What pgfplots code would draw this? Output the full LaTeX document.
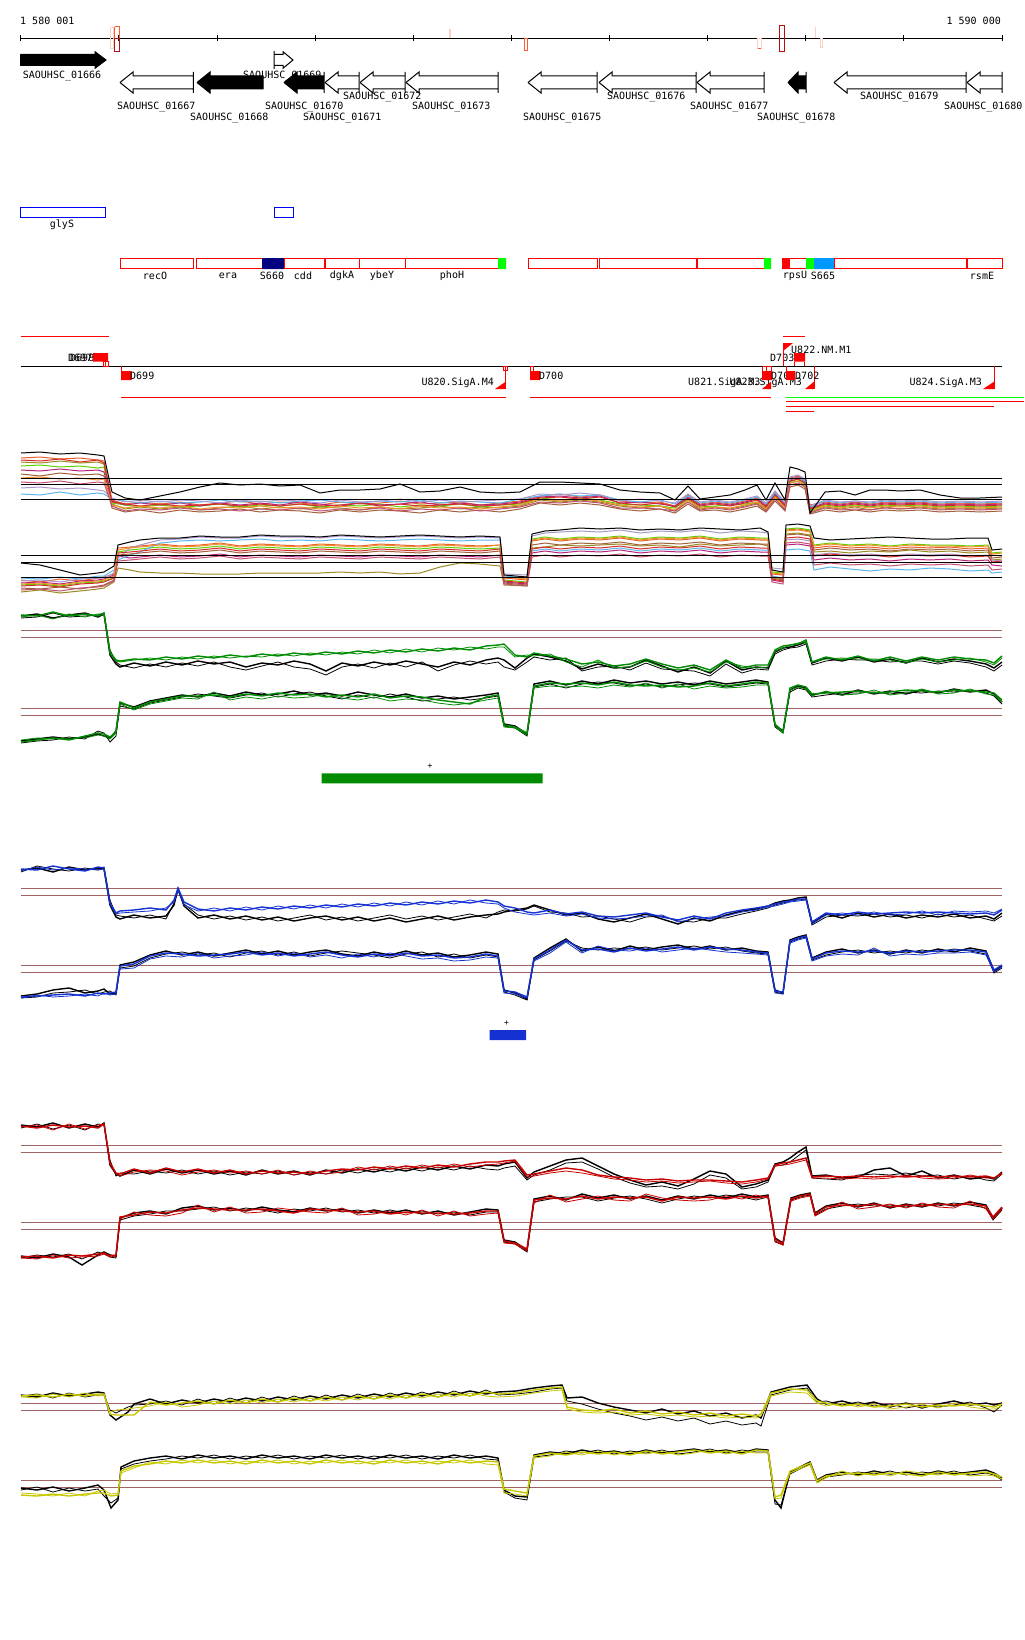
\documentclass[border=0pt]{standalone}
\usepackage{fontspec}
\setmainfont{DejaVu Sans Mono}
\usepackage{pgfplots}
\usepackage{pgfplotstable}
\pgfplotsset{compat=1.18}
\definecolor{rb}{RGB}{160,100,100}
\definecolor{m1}{RGB}{232,96,44}
\definecolor{m2}{RGB}{154,138,34}
\definecolor{m3}{RGB}{95,208,0}
\definecolor{m4}{RGB}{184,35,122}
\definecolor{m5}{RGB}{90,180,238}
\definecolor{m6}{RGB}{168,152,204}
\definecolor{m7}{RGB}{160,96,58}
\definecolor{m8}{RGB}{212,42,42}
\definecolor{m9}{RGB}{240,144,42}
\definecolor{m10}{RGB}{192,80,112}
\definecolor{tg}{RGB}{0,140,0}
\definecolor{tb}{RGB}{20,50,210}
\definecolor{tr}{RGB}{200,0,0}
\definecolor{ty}{RGB}{200,200,0}
\definecolor{navyb}{RGB}{0,0,128}
\definecolor{skyb}{RGB}{0,153,255}
\definecolor{lime}{RGB}{0,255,0}
\definecolor{pinkl}{RGB}{248,210,195}
\definecolor{oran}{RGB}{255,90,50}
\definecolor{dred}{RGB}{180,16,16}

\newcommand{\bx}[5]{\addplot[#1] coordinates {(#2,#3) (#4,#3) (#4,#5) (#2,#5) (#2,#3)};}
\newcommand{\sg}[5]{\addplot[#1] coordinates {(#2,#3) (#4,#5)};}
\newcommand{\lab}[4]{\node[font=\fontsize{10}{12}\selectfont, inner sep=0pt, anchor=#1] at (axis cs:#2,#3) {#4};}

% ---------- multi-colour track ----------
\pgfplotstableread{
x k c1 c2 c3 c4 c5 c6 c7 c8 c9 c10
21 453 458 462 466 470 494 488 474 460 478 482
40 452 457 463 465 471 495 487 476 461 477 483
60 454 459 461 467 469 492 489 473 459 479 481
80 453 458 463 466 471 495 488 475 462 478 484
98 455 460 462 468 470 493 490 474 460 480 482
104 456 461 464 467 472 494 491 476 463 479 483
112 492 500 504 503 501 499 498 508 502 505 506
125 498 504 509 505 505 501 502 512 504 508 511
140 500 502 507 507 503 503 500 510 506 506 509
160 496 504 509 505 505 501 502 513 504 508 510
180 492 502 507 507 503 503 500 510 506 506 508
200 487 505 510 506 506 502 501 512 505 509 510
220 483 503 508 504 503 500 503 511 504 507 509
240 485 501 506 507 505 502 500 509 506 508 511
260 484 504 509 505 503 501 502 512 504 506 509
280 486 502 507 506 505 503 500 510 506 508 510
300 485 503 509 504 502 501 501 511 504 507 508
320 493 505 507 507 504 500 503 513 506 509 511
340 490 502 508 505 506 502 500 510 505 506 509
360 490 504 510 506 503 503 502 512 503 508 510
380 489 503 507 504 505 501 501 510 506 507 508
400 484 501 509 507 504 502 499 511 504 509 511
420 492 504 508 505 502 500 502 513 506 506 509
440 491 503 506 506 505 503 500 510 505 508 510
460 487 502 509 504 503 501 502 512 504 507 508
480 492 505 507 507 505 502 501 510 506 509 511
500 493 503 508 505 504 503 500 512 505 507 509
520 492 501 506 504 502 499 499 509 503 505 507
540 482 496 500 498 497 496 494 503 498 499 502
560 482 494 502 500 496 494 495 505 497 501 503
580 483 497 500 498 498 496 493 503 499 499 501
600 484 495 502 500 496 495 495 505 497 501 503
620 490 501 506 504 503 500 501 509 503 505 508
640 492 503 508 505 502 502 499 511 505 507 508
660 493 502 506 506 504 500 501 509 503 506 509
675 500 506 511 508 506 504 503 513 507 510 511
688 486 495 500 499 497 496 494 504 498 500 502
700 499 504 509 507 505 503 502 511 506 508 510
715 497 502 507 506 503 501 500 510 504 507 508
730 495 504 509 505 505 503 502 512 506 508 510
745 490 501 506 504 502 500 499 509 503 505 507
757 485 498 503 502 499 497 496 506 500 502 504
766 500 505 510 508 506 504 503 512 507 509 511
775 483 492 497 496 494 493 491 501 495 497 499
785 500 504 509 507 505 503 502 511 506 508 510
790 467 478 483 482 480 479 477 487 481 483 485
798 469 476 481 479 477 478 475 485 479 481 483
805 472 480 486 484 482 481 479 489 483 485 487
810 513 505 512 510 508 507 506 514 509 511 513
825 492 502 507 505 503 501 500 510 504 506 508
840 491 504 509 507 505 503 502 512 506 508 510
855 495 502 507 505 503 501 501 510 504 506 509
870 490 504 510 507 505 503 502 512 506 508 510
885 490 502 507 505 503 501 500 510 504 506 508
900 491 503 509 506 504 502 501 511 505 507 509
920 490 502 507 505 503 501 500 510 504 506 508
940 495 504 509 507 505 503 502 512 506 508 510
960 498 503 508 506 504 502 501 511 505 507 509
980 498 504 509 507 505 503 502 512 506 508 510
1002 497 503 508 506 504 502 501 511 505 507 509
}\multiup
\pgfplotstableread{
x k c1 c2 c3 c4 c5 c6 c7 c8 c9 c10
21 563 580 592 585 583 578 581 588 586 584 590
40 565 582 590 584 582 579 580 589 585 583 589
60 570 579 593 586 584 577 582 587 587 585 591
80 575 581 591 583 581 579 579 589 584 582 588
98 573 578 589 582 580 576 578 586 583 581 587
104 572 577 588 581 579 576 578 585 582 580 586
114 566 574 582 578 575 570 573 580 578 576 581
118 545 548 568 552 556 560 558 555 553 550 561
130 542 547 570 550 558 555 548 554 552 548 560
140 540 546 572 549 557 552 545 553 551 547 559
160 538 544 573 547 555 543 540 551 549 545 557
180 538 546 573 549 557 541 539 553 551 547 559
200 536 545 574 548 556 540 537 552 550 546 558
220 537 543 574 546 554 541 538 550 548 544 556
240 537 546 574 549 557 540 538 553 551 547 559
260 535 544 573 547 555 539 536 551 549 545 557
280 536 545 573 548 556 541 537 552 550 546 558
300 536 546 573 549 557 540 537 553 551 547 559
320 537 544 573 547 555 541 538 551 549 545 557
340 535 545 572 548 556 539 536 552 550 546 558
360 536 546 573 549 557 540 537 553 551 547 559
380 537 544 572 547 555 541 538 551 549 545 557
400 536 545 574 548 556 540 537 552 550 546 558
420 535 546 573 549 557 539 536 553 551 547 559
440 536 544 567 547 555 540 537 551 549 545 557
460 537 545 563 548 556 541 538 552 550 546 558
480 536 546 564 549 557 540 537 553 551 547 559
500 537 545 566 548 555 540 538 551 549 545 557
504 575 578 585 580 582 576 574 583 581 577 584
527 577 580 586 582 584 578 575 585 583 579 586
532 534 541 548 539 553 551 536 545 549 540 557
545 531 539 547 537 551 549 533 543 547 538 555
560 530 541 545 539 553 551 532 545 549 540 557
580 528 539 546 537 551 549 531 543 547 538 555
600 529 540 545 538 552 550 532 544 548 539 556
620 528 538 544 536 550 548 530 542 546 537 554
640 530 541 546 539 553 551 533 545 549 540 557
660 529 539 545 537 551 549 531 543 547 538 555
680 530 540 547 538 552 550 532 544 548 539 556
700 528 538 544 536 550 548 530 542 546 537 554
720 529 541 546 539 553 551 533 545 549 540 557
740 530 539 545 537 551 549 531 543 547 538 555
760 528 540 544 538 552 550 532 544 548 539 556
768 532 540 546 538 552 550 533 544 548 539 556
772 570 574 578 572 580 576 568 577 579 573 582
783 572 575 580 573 582 578 569 579 581 574 584
786 525 530 534 529 545 550 540 535 538 531 543
798 524 529 533 528 544 549 539 534 537 530 542
810 526 531 535 530 546 551 541 536 539 532 544
814 538 548 552 545 560 570 555 550 556 546 565
830 540 546 551 543 558 567 553 548 554 544 563
850 539 548 553 545 560 569 555 550 556 546 565
870 538 547 551 544 559 571 554 549 555 545 564
890 537 549 552 546 561 569 556 551 557 547 566
910 538 547 550 544 559 570 554 549 555 545 564
930 539 548 552 545 560 568 555 550 556 546 565
950 539 547 551 545 559 569 554 549 555 546 564
970 538 549 553 546 561 571 556 551 557 547 566
988 538 548 552 545 560 570 555 550 556 546 565
992 550 555 560 553 565 573 560 558 562 554 570
1002 549 556 559 552 566 572 561 557 561 553 569
}\multilo

% ---------- green track ----------
\pgfplotstableread{
x k1 k2 c1 c2
21 616 618 615 617
37 614 617 616 615
53 618 613 612 619
69 615 617 616 614
85 613 616 614 617
98 617 615 616 614
104 614 613 613 614
110 655 650 652 654
116 664 662 660 661
120 667 665 661 662
134 663 668 659 660
150 666 664 660 658
166 662 667 657 660
182 665 663 659 657
198 661 666 656 659
214 664 662 658 656
230 662 667 655 658
246 667 670 657 656
262 663 666 654 657
278 665 662 656 654
294 661 667 653 656
310 664 669 655 653
326 671 675 652 655
342 663 667 654 652
358 666 664 651 654
374 662 668 653 650
390 665 663 650 653
406 661 667 652 649
422 664 662 649 652
438 667 671 651 648
454 662 665 648 650
470 665 661 650 647
486 660 664 646 649
498 658 662 645 647
504 660 667 644 647
515 668 670 655 657
527 658 662 657 655
534 654 657 653 656
550 657 660 656 654
566 661 658 659 662
582 669 671 664 667
598 664 667 662 660
614 668 666 666 668
630 667 670 664 667
646 660 663 659 661
662 666 669 664 667
678 672 670 668 670
694 667 671 665 668
710 673 676 670 672
726 661 664 660 662
742 670 673 668 666
756 667 669 665 668
768 668 670 665 667
775 652 654 650 651
783 648 650 646 648
790 647 648 645 645
798 645 647 644 643
806 642 644 640 642
812 663 665 662 662
826 658 661 657 659
842 661 659 660 658
858 657 660 656 659
874 662 660 661 659
890 659 662 657 660
906 663 661 661 663
922 658 661 657 659
938 662 664 660 662
954 659 661 657 660
970 661 663 659 658
986 664 667 660 662
994 668 671 663 665
1002 662 665 656 658
}\gup
\pgfplotstableread{
x k1 k2 c1 c2
21 741 743 742 740
37 739 741 740 738
53 737 740 738 739
69 739 737 740 738
85 737 739 736 738
98 734 731 733 735
104 736 733 734 736
110 738 742 737 739
116 731 736 732 733
120 703 706 702 704
134 707 709 708 710
150 701 703 702 704
166 698 700 699 701
182 695 697 696 698
198 697 694 696 699
214 693 696 695 692
230 696 698 697 700
246 692 695 694 697
262 695 693 696 699
278 694 697 693 696
294 691 694 695 698
310 695 692 694 697
326 693 696 697 694
342 696 699 695 698
358 692 695 697 700
374 695 698 694 697
390 697 694 698 701
406 694 697 696 699
422 698 701 697 700
438 696 699 700 703
454 699 697 702 705
470 697 700 704 703
486 695 698 697 700
498 693 696 695 698
504 724 726 725 727
515 726 728 727 728
527 734 736 733 735
534 684 687 686 688
550 681 684 683 686
566 685 688 684 687
582 681 684 683 686
598 684 682 685 688
614 680 683 682 685
630 683 686 685 687
646 681 684 686 683
662 684 687 685 688
678 682 685 687 684
694 685 683 686 689
710 681 684 683 686
726 684 687 686 688
742 682 685 684 687
756 680 683 682 685
768 682 684 683 685
775 725 727 724 726
783 731 733 732 733
790 690 692 688 690
798 686 688 685 687
806 688 690 687 689
812 695 697 694 696
826 692 695 693 691
842 695 693 692 695
858 690 693 691 694
874 694 692 693 690
890 691 694 692 695
906 694 692 690 693
922 690 693 691 689
938 693 691 692 694
954 689 692 690 693
970 692 690 691 689
986 690 693 692 694
994 694 696 693 695
1002 702 704 700 702
}\glo

% ---------- blue track ----------
\pgfplotstableread{
x k1 k2 c1 c2
21 870 872 869 871
37 868 866 870 867
53 872 869 866 870
69 867 871 869 868
85 870 868 871 869
98 868 870 867 870
104 869 867 868 869
110 905 900 903 904
116 917 915 913 914
120 919 916 911 913
134 915 918 910 912
150 918 915 908 911
166 916 919 910 908
174 905 903 900 902
178 889 890 888 890
184 906 904 902 905
198 918 915 909 911
214 915 919 911 908
230 919 916 908 911
246 916 920 910 907
262 920 917 907 910
278 917 921 909 906
294 921 918 906 909
310 918 915 908 905
326 916 920 905 908
342 920 917 907 904
358 917 921 904 907
374 921 918 906 903
390 918 915 903 906
406 922 919 905 902
422 919 916 902 905
438 916 920 904 901
454 920 917 901 904
470 917 914 903 900
486 915 918 900 903
498 914 912 902 904
504 912 910 906 908
515 910 911 908 912
527 908 909 912 914
534 905 906 913 915
550 910 912 910 913
566 915 913 914 916
582 913 917 912 914
598 919 916 916 918
614 922 919 917 919
630 918 922 915 918
646 914 917 913 916
662 919 916 917 915
678 924 921 920 922
694 918 922 916 919
710 921 918 919 917
726 915 918 913 916
742 911 914 910 912
756 909 911 908 910
768 906 908 906 907
775 903 905 904 906
783 901 903 902 904
790 900 901 901 902
798 898 900 899 901
806 897 899 899 900
812 923 925 922 924
826 914 917 913 915
842 918 915 915 913
858 913 916 912 915
874 917 914 914 912
890 914 917 913 915
906 918 915 912 914
922 915 918 913 911
938 917 914 912 915
954 914 917 913 911
970 918 915 914 912
986 916 919 913 911
994 919 921 915 913
1002 913 916 910 909
}\bup
\pgfplotstableread{
x k1 k2 c1 c2
21 996 998 997 998
37 994 997 996 995
53 990 993 995 997
69 988 992 994 996
85 993 990 996 994
98 991 994 993 996
104 989 992 994 993
110 994 991 993 995
116 993 995 992 994
120 965 968 966 969
134 962 966 964 968
150 955 958 956 959
166 951 954 953 956
182 955 952 954 957
198 952 955 956 953
214 956 953 955 958
230 953 957 954 956
246 950 953 952 955
262 954 951 955 952
278 951 955 953 956
294 955 952 956 953
310 952 956 954 957
326 950 953 952 955
342 954 951 955 958
358 956 953 957 954
374 952 955 954 957
390 955 958 956 953
406 951 954 953 956
422 955 952 956 959
438 953 957 955 958
454 957 954 958 961
470 955 958 957 960
486 952 955 954 957
498 954 957 956 958
504 990 992 991 993
515 993 995 992 994
527 999 1000 997 998
534 958 960 959 961
550 948 951 950 953
566 939 941 940 942
582 951 948 950 953
598 947 950 949 946
614 951 948 952 950
630 946 949 948 951
646 950 947 951 948
662 947 950 949 952
678 945 948 947 950
694 949 946 950 948
710 946 949 947 950
726 950 947 949 952
742 948 951 950 953
756 951 953 952 954
768 952 954 953 955
775 990 992 991 993
783 993 994 992 994
790 940 942 941 943
798 937 939 938 940
806 935 937 936 938
812 958 960 959 961
826 952 955 953 956
842 949 952 951 954
858 953 950 952 955
874 950 953 951 948
890 954 951 953 956
906 950 953 951 954
922 953 950 952 955
938 949 952 951 953
954 952 949 950 953
970 948 951 950 952
986 951 954 952 955
994 971 973 970 972
1002 966 968 965 967
}\blo

% ---------- red track ----------
\pgfplotstableread{
x k1 k2 c1 c2
21 1125 1128 1126 1127
37 1127 1124 1128 1125
53 1123 1129 1125 1130
69 1128 1125 1127 1124
85 1124 1130 1126 1129
98 1127 1124 1128 1125
104 1123 1125 1124 1124
110 1165 1160 1163 1164
116 1174 1176 1173 1174
120 1176 1173 1174 1176
134 1170 1174 1169 1172
150 1174 1171 1173 1170
166 1169 1173 1168 1171
182 1173 1170 1172 1175
198 1170 1174 1169 1172
214 1174 1171 1173 1170
230 1171 1175 1170 1173
246 1175 1172 1174 1171
262 1170 1174 1171 1174
278 1174 1171 1173 1170
294 1171 1175 1172 1175
310 1175 1172 1174 1171
326 1170 1174 1171 1174
342 1173 1170 1169 1172
358 1169 1173 1170 1167
374 1172 1169 1167 1170
390 1168 1172 1169 1166
406 1171 1168 1166 1169
422 1167 1171 1168 1165
438 1170 1167 1165 1168
454 1166 1170 1167 1164
470 1169 1166 1164 1167
486 1165 1169 1162 1165
498 1166 1170 1162 1164
504 1164 1168 1161 1163
515 1162 1166 1160 1161
527 1178 1180 1175 1177
534 1172 1175 1174 1176
550 1166 1170 1171 1173
566 1160 1163 1168 1171
582 1158 1162 1170 1173
598 1166 1169 1175 1176
614 1174 1177 1177 1179
630 1180 1183 1178 1180
646 1185 1187 1180 1182
662 1182 1186 1179 1181
678 1186 1189 1181 1183
694 1179 1184 1180 1182
710 1171 1175 1180 1181
726 1174 1178 1181 1183
742 1187 1189 1182 1184
756 1184 1187 1180 1182
768 1180 1182 1178 1179
775 1164 1166 1165 1166
783 1162 1165 1163 1165
790 1158 1162 1162 1164
798 1152 1156 1160 1162
806 1147 1150 1158 1160
812 1176 1178 1177 1178
826 1175 1179 1176 1178
842 1178 1180 1177 1179
858 1177 1175 1176 1178
874 1170 1174 1177 1179
890 1168 1175 1176 1178
906 1176 1173 1177 1175
922 1171 1176 1176 1178
938 1178 1175 1177 1179
954 1175 1179 1176 1178
970 1179 1176 1177 1175
986 1177 1180 1176 1178
994 1179 1181 1178 1178
1002 1172 1174 1173 1174
}\rup
\pgfplotstableread{
x k1 k2 c1 c2
21 1256 1258 1257 1258
37 1258 1255 1256 1259
53 1254 1257 1258 1255
69 1257 1254 1255 1258
82 1265 1259 1256 1257
98 1255 1252 1254 1256
104 1252 1254 1253 1254
110 1255 1257 1256 1257
116 1256 1258 1255 1256
120 1218 1220 1217 1219
134 1213 1216 1215 1212
150 1211 1214 1212 1215
166 1214 1211 1213 1216
182 1208 1211 1210 1213
198 1206 1209 1208 1205
214 1210 1207 1209 1212
230 1208 1211 1210 1207
246 1211 1208 1210 1213
262 1207 1210 1209 1212
278 1210 1213 1211 1208
294 1212 1209 1213 1210
310 1208 1211 1209 1212
326 1211 1208 1210 1213
342 1209 1212 1211 1208
358 1213 1210 1212 1215
374 1210 1213 1211 1214
390 1213 1210 1214 1211
406 1210 1213 1212 1215
422 1214 1211 1213 1210
438 1211 1214 1213 1216
454 1215 1212 1214 1211
470 1212 1215 1213 1216
486 1209 1212 1211 1214
498 1210 1212 1211 1213
504 1240 1242 1241 1243
515 1242 1244 1243 1244
527 1250 1252 1249 1251
534 1199 1202 1200 1203
550 1196 1199 1198 1195
566 1200 1197 1199 1202
582 1194 1197 1196 1199
598 1198 1201 1199 1196
614 1195 1198 1197 1200
630 1199 1196 1198 1201
646 1196 1199 1197 1194
662 1200 1203 1201 1198
678 1196 1199 1197 1200
694 1199 1196 1198 1201
710 1195 1198 1197 1200
726 1198 1195 1199 1196
742 1194 1197 1196 1199
756 1197 1200 1198 1195
768 1195 1197 1196 1198
775 1238 1241 1239 1242
783 1243 1245 1244 1245
791 1198 1200 1199 1201
800 1195 1197 1196 1198
810 1193 1195 1194 1196
815 1213 1215 1214 1216
826 1206 1209 1207 1210
842 1203 1206 1205 1202
858 1207 1204 1206 1209
874 1203 1206 1204 1207
890 1208 1205 1207 1204
906 1204 1207 1205 1208
922 1207 1204 1206 1203
938 1203 1206 1204 1207
954 1206 1203 1205 1208
970 1202 1205 1204 1201
986 1205 1208 1206 1209
993 1218 1220 1217 1219
1002 1208 1210 1207 1209
}\rlo

% ---------- yellow track ----------
\pgfplotstableread{
x k1 k2 c1 c2
21 1395 1396 1396 1397
37 1397 1394 1395 1398
53 1393 1398 1397 1394
69 1396 1393 1394 1397
85 1394 1397 1396 1393
98 1392 1395 1394 1396
104 1393 1395 1394 1395
110 1415 1410 1414 1412
116 1420 1413 1415 1410
128 1412 1407 1415 1409
134 1404 1405 1415 1408
150 1399 1404 1402 1406
166 1404 1401 1405 1402
182 1400 1405 1403 1407
198 1403 1399 1401 1405
214 1399 1404 1404 1401
230 1402 1398 1400 1404
246 1398 1403 1403 1400
262 1401 1397 1399 1403
278 1397 1402 1402 1399
294 1400 1396 1398 1402
310 1396 1401 1401 1398
326 1399 1395 1397 1401
342 1395 1400 1400 1397
358 1398 1394 1396 1400
374 1394 1399 1399 1396
390 1397 1393 1395 1399
406 1393 1398 1398 1395
422 1396 1392 1394 1398
438 1392 1397 1397 1394
454 1395 1391 1393 1397
470 1391 1396 1396 1393
486 1394 1390 1392 1396
498 1392 1395 1394 1397
516 1391 1394 1393 1396
534 1388 1392 1390 1393
550 1386 1389 1388 1391
562 1385 1388 1387 1390
567 1398 1401 1407 1409
582 1397 1404 1410 1412
598 1403 1409 1411 1413
614 1407 1413 1409 1412
630 1410 1416 1413 1415
646 1413 1420 1411 1414
662 1409 1417 1414 1416
678 1414 1421 1412 1415
694 1411 1418 1415 1417
710 1416 1424 1413 1416
726 1413 1421 1416 1418
742 1418 1425 1414 1417
756 1415 1423 1416 1418
761 1418 1426 1414 1416
771 1392 1395 1393 1396
790 1387 1390 1389 1392
807 1385 1388 1390 1393
817 1399 1402 1401 1403
826 1404 1401 1403 1406
842 1401 1405 1406 1403
858 1405 1402 1404 1407
874 1402 1406 1407 1404
890 1407 1404 1406 1409
906 1403 1408 1404 1407
922 1408 1405 1407 1404
938 1404 1407 1405 1408
954 1401 1405 1406 1403
970 1405 1402 1404 1407
986 1403 1408 1406 1409
994 1405 1412 1407 1409
1002 1403 1405 1404 1406
}\yup
\pgfplotstableread{
x k1 k2 c1 c2
21 1488 1490 1495 1493
37 1490 1487 1496 1494
53 1487 1492 1494 1496
69 1491 1488 1496 1493
85 1488 1491 1494 1496
98 1485 1489 1493 1491
104 1490 1496 1493 1490
111 1508 1503 1496 1494
118 1500 1498 1495 1493
121 1467 1469 1471 1473
134 1461 1464 1466 1468
150 1458 1461 1464 1462
166 1456 1459 1461 1464
182 1459 1456 1463 1460
198 1455 1458 1460 1463
214 1458 1455 1463 1460
230 1456 1459 1461 1464
246 1459 1456 1464 1461
262 1455 1458 1460 1463
278 1458 1455 1463 1460
294 1456 1459 1461 1464
310 1459 1456 1464 1461
326 1455 1458 1460 1463
342 1458 1455 1463 1460
358 1456 1459 1461 1464
374 1459 1456 1464 1461
390 1455 1458 1460 1463
406 1458 1455 1463 1460
422 1456 1459 1461 1464
438 1459 1456 1464 1461
454 1455 1458 1460 1463
470 1458 1455 1463 1460
486 1456 1459 1461 1464
498 1458 1460 1462 1465
504 1490 1492 1489 1493
515 1496 1498 1491 1494
527 1497 1500 1493 1496
534 1455 1457 1456 1458
550 1452 1455 1453 1456
566 1454 1451 1455 1452
582 1450 1453 1452 1455
598 1453 1450 1454 1451
614 1451 1454 1452 1455
630 1454 1451 1455 1452
646 1450 1453 1451 1454
662 1453 1450 1454 1451
678 1451 1454 1452 1455
694 1449 1452 1450 1453
710 1452 1449 1453 1450
726 1450 1453 1451 1454
742 1453 1450 1454 1451
756 1449 1452 1450 1453
768 1450 1452 1451 1453
775 1500 1504 1497 1499
781 1508 1505 1495 1498
790 1472 1474 1471 1473
810 1462 1464 1463 1465
817 1480 1482 1481 1483
826 1475 1477 1476 1478
842 1472 1475 1474 1471
858 1475 1472 1473 1476
874 1471 1474 1475 1472
890 1474 1471 1473 1476
906 1472 1475 1474 1471
922 1475 1472 1476 1473
938 1471 1474 1472 1475
954 1474 1471 1475 1472
970 1472 1475 1473 1476
986 1470 1473 1472 1475
994 1473 1475 1474 1476
1002 1478 1480 1477 1479
}\ylo

\begin{document}
\begin{tikzpicture}
\begin{axis}[
  scale only axis, width=1024pt, height=1640pt,
  xmin=0, xmax=1024, ymin=0, ymax=1640, y dir=reverse,
  axis lines=none, ticks=none, clip=false,
  every axis plot/.append style={line width=1pt},
]
\addplot[draw=none] coordinates {(0,0) (1024,1640)};

% ===== ruler =====
\sg{black}{20.7}{38.3}{1002}{38.3}
\sg{black}{20.7}{35.5}{20.7}{41}
\sg{black}{118.8}{35.5}{118.8}{41}
\sg{black}{217}{35.5}{217}{41}
\sg{black}{315}{35.5}{315}{41}
\sg{black}{413}{35.5}{413}{41}
\sg{black}{511.3}{35.5}{511.3}{41}
\sg{black}{609.5}{35.5}{609.5}{41}
\sg{black}{707.6}{35.5}{707.6}{41}
\sg{black}{805.7}{35.5}{805.7}{41}
\sg{black}{903.9}{35.5}{903.9}{41}
\sg{black}{1002}{35.5}{1002}{41}
\bx{pinkl}{110.5}{28}{113.5}{49}
\bx{oran}{114.5}{27}{119}{38.3}
\bx{dred}{114.5}{38.3}{119}{52}
\sg{pinkl,line width=1.5pt}{450}{29}{450}{38}
\bx{oran}{524}{38.3}{527.5}{50.5}
\bx{pinkl}{757.5}{38.3}{761}{48.5}
\sg{oran}{757.5}{48.5}{761}{48.5}
\bx{dred}{779.5}{25.5}{784}{52}
\sg{pinkl,line width=1.5pt}{815.5}{27}{815.5}{38}
\bx{pinkl}{820.5}{38.3}{822.5}{48}
\lab{west}{20}{20.7}{1 580 001}
\lab{east}{1001}{20.7}{1 590 000}

% ===== genes row 1 =====
\addplot[fill=black, draw=black] coordinates {(20.7,54.5) (95,54.5) (95,51.7) (106,60) (95,68.3) (95,65.5) (20.7,65.5) (20.7,54.5)};
\addplot[fill=white, draw=black] coordinates {(274,51) (274,69) (274,65.5) (283,65.5) (283,68.3) (293,60) (283,51.7) (283,54.5) (274,54.5) (274,51)};
% ===== genes row 2 =====
\addplot[fill=white, draw=black] coordinates {(120,82.5) (133,72) (133,76) (193.3,76) (193.3,72) (193.3,93) (193.3,89) (133,89) (133,93) (120,82.5)};
\addplot[fill=black, draw=black] coordinates {(197,82.5) (210,72) (210,76) (263,76) (263,89) (210,89) (210,93) (197,82.5)};
\addplot[fill=black, draw=black] coordinates {(284,82.5) (297,72) (297,76) (324,76) (324,72) (324,93) (324,89) (297,89) (297,93) (284,82.5)};
\addplot[fill=white, draw=black] coordinates {(325,82.5) (338,72) (338,76) (359,76) (359,72) (359,93) (359,89) (338,89) (338,93) (325,82.5)};
\addplot[fill=white, draw=black] coordinates {(360,82.5) (373,72) (373,76) (405,76) (405,72) (405,93) (405,89) (373,89) (373,93) (360,82.5)};
\addplot[fill=white, draw=black] coordinates {(406,82.5) (419,72) (419,76) (498,76) (498,72) (498,93) (498,89) (419,89) (419,93) (406,82.5)};
\addplot[fill=white, draw=black] coordinates {(528,82.5) (541,72) (541,76) (597,76) (597,72) (597,93) (597,89) (541,89) (541,93) (528,82.5)};
\addplot[fill=white, draw=black] coordinates {(599,82.5) (612,72) (612,76) (696,76) (696,72) (696,93) (696,89) (612,89) (612,93) (599,82.5)};
\addplot[fill=white, draw=black] coordinates {(697,82.5) (710,72) (710,76) (764,76) (764,72) (764,93) (764,89) (710,89) (710,93) (697,82.5)};
\addplot[fill=black, draw=black] coordinates {(788,82.5) (798,72) (798,76) (806,76) (806,72) (806,93) (806,89) (798,89) (798,93) (788,82.5)};
\addplot[fill=white, draw=black] coordinates {(834,82.5) (847,72) (847,76) (966,76) (966,72) (966,93) (966,89) (847,89) (847,93) (834,82.5)};
\addplot[fill=white, draw=black] coordinates {(967,82.5) (980,72) (980,76) (1002,76) (1002,72) (1002,93) (1002,89) (980,89) (980,93) (967,82.5)};
\lab{west}{22.7}{76}{SAOUHSC\_01666}
\lab{west}{243}{76}{SAOUHSC\_01669}
\lab{west}{117}{107}{SAOUHSC\_01667}
\lab{west}{190}{118}{SAOUHSC\_01668}
\lab{west}{265}{107}{SAOUHSC\_01670}
\lab{west}{303}{118}{SAOUHSC\_01671}
\lab{west}{343}{97}{SAOUHSC\_01672}
\lab{west}{412}{107}{SAOUHSC\_01673}
\lab{west}{523}{118}{SAOUHSC\_01675}
\lab{west}{607}{97}{SAOUHSC\_01676}
\lab{west}{690}{107}{SAOUHSC\_01677}
\lab{west}{757}{118}{SAOUHSC\_01678}
\lab{west}{860}{97}{SAOUHSC\_01679}
\lab{west}{944}{107}{SAOUHSC\_01680}

% ===== blue boxes =====
\bx{blue}{20.7}{207.3}{105.7}{217.3}
\bx{blue}{274}{207.3}{293}{217.3}
\lab{center}{62}{225}{glyS}

% ===== coloured boxes =====
\bx{red}{120}{258.5}{193.3}{268.5}
\bx{red}{196}{258.5}{262}{268.5}
\bx{draw=none,fill=navyb}{262}{258}{284}{269}
\bx{red}{284}{258.5}{324}{268.5}
\bx{red}{325}{258.5}{359}{268.5}
\bx{red}{359}{258.5}{405}{268.5}
\bx{red}{405}{258.5}{498}{268.5}
\bx{draw=none,fill=lime}{498}{258}{506}{269}
\bx{red}{528}{258.5}{597}{268.5}
\bx{red}{599}{258.5}{696}{268.5}
\bx{red}{697}{258.5}{764}{268.5}
\bx{draw=none,fill=lime}{764}{258}{771}{269}
\bx{draw=none,fill=red}{782}{258}{789}{269}
\bx{red}{789}{258.5}{806}{268.5}
\bx{draw=none,fill=lime}{806}{258}{814}{269}
\bx{draw=none,fill=skyb}{814}{258}{834}{269}
\bx{red}{834}{258.5}{966}{268.5}
\bx{red}{967}{258.5}{1002}{268.5}
\lab{center}{155}{275.7}{recO}
\lab{center}{228}{275.7}{era}
\lab{center}{272}{275.7}{S660}
\lab{center}{303}{275.7}{cdd}
\lab{center}{342}{275.7}{dgkA}
\lab{center}{382}{275.7}{ybeY}
\lab{center}{452}{275.7}{phoH}
\lab{center}{795}{275.7}{rpsU}
\lab{center}{823}{275.7}{S665}
\lab{center}{982}{275.7}{rsmE}

% ===== feature track =====
\sg{red}{20.7}{336}{109}{336}
\sg{black}{20.7}{366}{1002}{366}
\lab{west}{68}{357.7}{D697}
\lab{west}{70}{357.7}{D698}
\bx{draw=none,fill=red}{93}{353}{108}{361.7}
\bx{red}{103}{361.7}{105.5}{366}
\bx{red}{105.5}{361.7}{108}{366}
\sg{red}{121.7}{366}{121.7}{371}
\bx{draw=none,fill=red}{121}{371}{131.7}{380}
\lab{west}{130}{375.7}{D699}
\lab{east}{494}{383}{U820.SigA.M4}
\addplot[draw=none,fill=red] coordinates {(495,389) (505.7,389) (505.7,381.7) (495,389)};
\sg{red}{505.7}{366}{505.7}{389}
\bx{red}{503}{366.7}{507}{370.7}
\sg{red}{121}{397.3}{505.7}{397.3}
\bx{red}{530}{366.5}{533}{371}
\bx{draw=none,fill=red}{530}{371}{540}{380}
\lab{west}{539}{375.7}{D700}
\sg{red}{530}{397.3}{771}{397.3}
\lab{west}{688}{383}{U821.SigA.M3}
\lab{east}{802}{383}{U823.SigA.M3}
\bx{draw=none,fill=red}{762}{371}{772}{380}
\bx{red}{762.5}{366.5}{766.5}{371}
\bx{red}{766.5}{366.5}{771}{371}
\addplot[draw=none,fill=red] coordinates {(762,389) (771,389) (771,381.7) (762,389)};
\addplot[draw=none,fill=red] coordinates {(805,389) (814,389) (814,381.7) (805,389)};
\sg{red}{814}{366}{814}{389}
\lab{west}{770}{357.7}{D703}
\bx{draw=none,fill=red}{794}{353}{805}{361.7}
\sg{red}{794.5}{361.7}{794.5}{366}
\sg{red}{804.5}{361.7}{804.5}{366}
\lab{west}{791}{350}{U822.NM.M1}
\addplot[draw=none,fill=red] coordinates {(783,343) (793,343) (783,351) (783,343)};
\sg{red}{783}{343}{783}{366}
\sg{red}{783}{336}{805}{336}
\lab{west}{771}{375.7}{D701}
\bx{draw=none,fill=red}{786}{371}{795}{380}
\sg{red}{786.5}{366}{786.5}{371}
\lab{west}{795}{375.7}{D702}
\lab{east}{982}{383}{U824.SigA.M3}
\addplot[draw=none,fill=red] coordinates {(983,389) (994,389) (994,381.7) (983,389)};
\sg{red}{994}{366}{994}{389}
\sg{lime}{786}{397.3}{1024}{397.3}
\sg{red}{786}{401}{1024}{401}
\sg{red}{786}{406}{994}{406}
\sg{red}{786}{411}{814}{411}

% ===== multi-colour track =====
\pgfplotsinvokeforeach{1,...,10}{
  \addplot[m#1] table[x=x,y=c#1]{\multiup};
  \addplot[m#1] table[x=x,y=c#1]{\multilo};
}
\addplot[black] table[x=x,y=k]{\multiup};
\addplot[black] table[x=x,y=k]{\multilo};
\sg{black}{20.7}{478.3}{1002}{478.3}
\sg{black}{20.7}{484.3}{1002}{484.3}
\sg{black}{20.7}{499.3}{1002}{499.3}
\sg{black}{20.7}{555.3}{1002}{555.3}
\sg{black}{20.7}{562}{1002}{562}
\sg{black}{20.7}{577.3}{1002}{577.3}

% ===== green track =====
\sg{rb}{20.7}{630}{1002}{630}
\sg{rb}{20.7}{637.3}{1002}{637.3}
\sg{rb}{20.7}{708.3}{1002}{708.3}
\sg{rb}{20.7}{715.3}{1002}{715.3}
\addplot[black,line width=1.4pt] table[x=x,y=k1]{\gup};
\addplot[black,line width=0.8pt] table[x=x,y=k2]{\gup};
\addplot[tg,line width=1.4pt] table[x=x,y=c1]{\gup};
\addplot[tg,line width=0.8pt] table[x=x,y=c2]{\gup};
\addplot[black,line width=1.4pt] table[x=x,y=k1]{\glo};
\addplot[black,line width=0.8pt] table[x=x,y=k2]{\glo};
\addplot[tg,line width=1.4pt] table[x=x,y=c1]{\glo};
\addplot[tg,line width=0.8pt] table[x=x,y=c2]{\glo};
\bx{draw=none,fill=tg}{321.6}{773.3}{542.5}{783.3}
\node[font=\fontsize{8}{9}\selectfont, inner sep=0pt] at (axis cs:430,766) {+};

% ===== blue track =====
\sg{rb}{20.7}{888.3}{1002}{888.3}
\sg{rb}{20.7}{895.3}{1002}{895.3}
\sg{rb}{20.7}{965.3}{1002}{965.3}
\sg{rb}{20.7}{972.3}{1002}{972.3}
\addplot[black,line width=1.4pt] table[x=x,y=k1]{\bup};
\addplot[black,line width=0.8pt] table[x=x,y=k2]{\bup};
\addplot[tb,line width=1.4pt] table[x=x,y=c1]{\bup};
\addplot[tb,line width=0.8pt] table[x=x,y=c2]{\bup};
\addplot[black,line width=1.4pt] table[x=x,y=k1]{\blo};
\addplot[black,line width=0.8pt] table[x=x,y=k2]{\blo};
\addplot[tb,line width=1.4pt] table[x=x,y=c1]{\blo};
\addplot[tb,line width=0.8pt] table[x=x,y=c2]{\blo};
\bx{draw=none,fill=tb}{489.5}{1030}{526}{1040}
\node[font=\fontsize{8}{9}\selectfont, inner sep=0pt] at (axis cs:506.5,1023) {+};

% ===== red track =====
\sg{rb}{20.7}{1145}{1002}{1145}
\sg{rb}{20.7}{1152.3}{1002}{1152.3}
\sg{rb}{20.7}{1222.3}{1002}{1222.3}
\sg{rb}{20.7}{1229.3}{1002}{1229.3}
\addplot[black,line width=1.4pt] table[x=x,y=k1]{\rup};
\addplot[black,line width=0.8pt] table[x=x,y=k2]{\rup};
\addplot[tr,line width=1.4pt] table[x=x,y=c1]{\rup};
\addplot[tr,line width=0.8pt] table[x=x,y=c2]{\rup};
\addplot[black,line width=1.4pt] table[x=x,y=k1]{\rlo};
\addplot[black,line width=0.8pt] table[x=x,y=k2]{\rlo};
\addplot[tr,line width=1.4pt] table[x=x,y=c1]{\rlo};
\addplot[tr,line width=0.8pt] table[x=x,y=c2]{\rlo};

% ===== yellow track =====
\sg{rb}{20.7}{1403.3}{1002}{1403.3}
\sg{rb}{20.7}{1410.3}{1002}{1410.3}
\sg{rb}{20.7}{1480.3}{1002}{1480.3}
\sg{rb}{20.7}{1487.3}{1002}{1487.3}
\addplot[black,line width=1.4pt] table[x=x,y=k1]{\yup};
\addplot[black,line width=0.8pt] table[x=x,y=k2]{\yup};
\addplot[ty,line width=1.4pt] table[x=x,y=c1]{\yup};
\addplot[ty,line width=0.8pt] table[x=x,y=c2]{\yup};
\addplot[black,line width=1.4pt] table[x=x,y=k1]{\ylo};
\addplot[black,line width=0.8pt] table[x=x,y=k2]{\ylo};
\addplot[ty,line width=1.4pt] table[x=x,y=c1]{\ylo};
\addplot[ty,line width=0.8pt] table[x=x,y=c2]{\ylo};
\end{axis}
\end{tikzpicture}
\end{document}
